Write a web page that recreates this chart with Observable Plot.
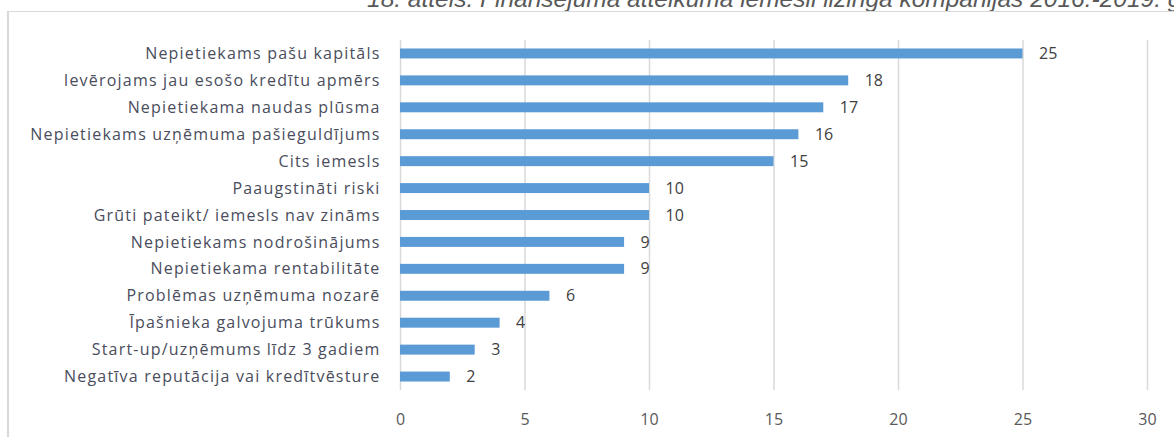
<!DOCTYPE html>
<html>
<head>
<meta charset="utf-8">
<script src="https://cdn.jsdelivr.net/npm/d3@7"></script>
<script src="https://cdn.jsdelivr.net/npm/@observablehq/plot@0.6"></script>
<style>
  html, body { margin: 0; padding: 0; background: #fff; }
  #wrap { position: relative; width: 1174px; height: 437px; overflow: hidden; }
  #title { position: absolute; left: 367px; top: -13px; white-space: nowrap; line-height: 1;
    font-family: "Liberation Sans", Arial, sans-serif; font-style: italic; font-size: 24.5px; color: #595959; }
  #frame { position: absolute; left: 7px; top: 11px; width: 1200px; height: 500px;
    border-left: 2px solid #d9d9d9; border-top: 1.5px solid #d9d9d9; box-sizing: border-box; }
  #chart { position: absolute; left: 0; top: 0; }
  #chart svg g[aria-label="y-axis tick label"] text { letter-spacing: 1.2px; }
</style>
</head>
<body>
<div id="wrap">
  <div id="title">18. attēls. Finansējuma atteikuma iemesli līzinga kompānijās 2016.-2019. gadā</div>
  <div id="frame"></div>
  <div id="chart"></div>
</div>
<script>
const categories = [
  "Nepietiekams pašu kapitāls",
  "Ievērojams jau esošo kredītu apmērs",
  "Nepietiekama naudas plūsma",
  "Nepietiekams uzņēmuma pašieguldījums",
  "Cits iemesls",
  "Paaugstināti riski",
  "Grūti pateikt/ iemesls nav zināms",
  "Nepietiekams nodrošinājums",
  "Nepietiekama rentabilitāte",
  "Problēmas uzņēmuma nozarē",
  "Īpašnieka galvojuma trūkums",
  "Start-up/uzņēmums līdz 3 gadiem",
  "Negatīva reputācija vai kredītvēsture"
];
const values = [25, 18, 17, 16, 15, 10, 10, 9, 9, 6, 4, 3, 2];
const xTicks = [0, 5, 10, 15, 20, 25, 30];

const data = categories.map((c, i) => ({category: c, value: values[i]}));

const chart = Plot.plot({
  width: 1174,
  height: 437,
  marginLeft: 400,
  marginRight: 27,
  marginTop: 40,
  marginBottom: 47,
  style: {fontFamily: "'Open Sans', sans-serif", background: "transparent"},
  x: {domain: [0, 30], ticks: xTicks},
  y: {domain: categories, paddingInner: 0.63, paddingOuter: 0.315, round: false},
  marks: [
    Plot.gridX(xTicks, {stroke: "#d9d9d9", strokeOpacity: 1, strokeWidth: 1.5}),
    Plot.axisX({ticks: xTicks, tickSize: 0, tickPadding: 23, fontSize: 16, color: "#595959", label: null}),
    Plot.axisY({tickSize: 0, tickPadding: 20, fontSize: 16, color: "#4a4d5c", label: null}),
    Plot.barX(data, {x: "value", y: "category", fill: "#5b9bd5"}),
    Plot.text(data, {x: "value", y: "category", text: d => String(d.value), textAnchor: "start", dx: 16, fontSize: 16, fill: "#404040"})
  ]
});
document.getElementById("chart").appendChild(chart);
</script>
</body>
</html>
